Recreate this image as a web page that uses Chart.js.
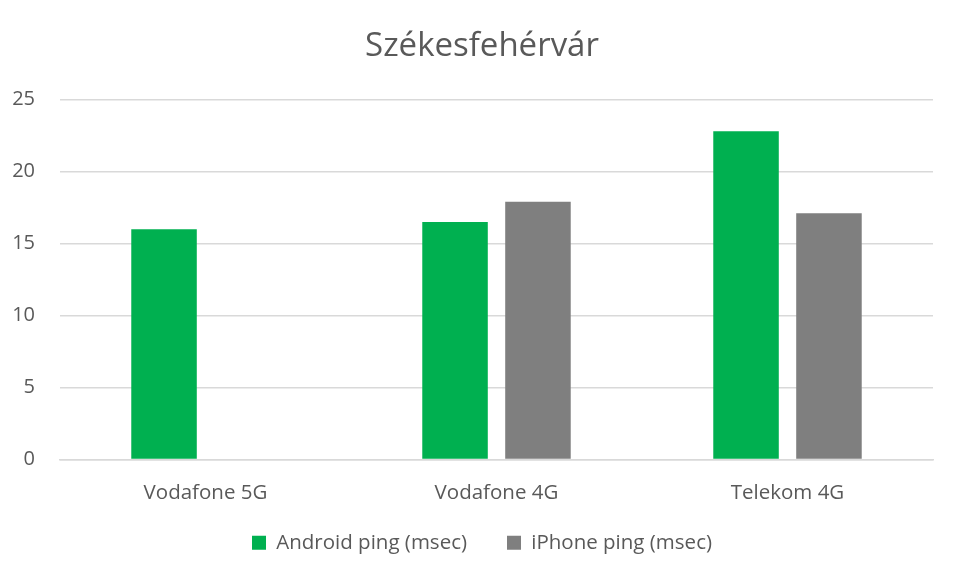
<!DOCTYPE html>
<html>
<head>
<meta charset="utf-8">
<script src="https://cdn.jsdelivr.net/npm/chart.js@4"></script>
<style>
  body { margin: 0; background: #fff; }
  .wrap { width: 960px; height: 581px; }
</style>
</head>
<body>
<div class="wrap"><canvas id="pingChart"></canvas></div>
<script>
var categories = ['Vodafone 5G', 'Vodafone 4G', 'Telekom 4G'];
var androidPing = [16.0, 16.5, 22.8];
var iphonePing = [null, 17.9, 17.1];
var yTicks = [0, 5, 10, 15, 20, 25];

var font = "'Open Sans', 'Noto Sans', sans-serif";
var textColor = '#595959';

// move the legend up a bit, keeps the wide gap between its items
var legendLift = {
  id: 'legendLift',
  afterLayout: function (chart) {
    chart.legend.top -= 13;
    chart.legend.bottom -= 13;
  }
};

var ctx = document.getElementById('pingChart');
var myChart = new Chart(ctx, {
  type: 'bar',
  data: {
    labels: categories,
    datasets: [{
        label: 'Android ping (msec)',
        data: androidPing,
        backgroundColor: '#00b050',
        yAxisID: 'y',
        categoryPercentage: 0.57,
        barPercentage: 0.79
      },
      {
        label: 'iPhone ping (msec)',
        data: iphonePing,
        backgroundColor: '#7f7f7f',
        yAxisID: 'y',
        categoryPercentage: 0.57,
        barPercentage: 0.79
      }
    ]
  },
  options: {
    responsive: true,
    maintainAspectRatio: false,
    animation: false,
    layout: {
      padding: {left: 12, right: 8, top: 14, bottom: 5}
    },
    scales: {
      x: {
        grid: {display: false},
        border: {display: true, color: '#d9d9d9', width: 1.5},
        ticks: {color: textColor, font: {family: font, size: 20.5}, padding: 13},
        afterFit: function (axis) {
          axis.height = 46;
        }
      },
      y: {
        min: 0,
        max: 25,
        afterBuildTicks: function (axis) {
          axis.ticks = yTicks.map(function (v) { return {value: v}; });
        },
        afterFit: function (axis) {
          axis.width = 48;
        },
        grid: {color: '#d9d9d9', lineWidth: 1.5, drawTicks: false},
        border: {display: false},
        ticks: {color: textColor, font: {family: font, size: 20}, padding: 25}
      },
      // empty spacer on the right so title and legend sit centred like the original
      yr: {
        position: 'right',
        grid: {display: false},
        border: {display: false},
        ticks: {display: false},
        afterFit: function (axis) {
          axis.width = 19;
        }
      }
    },
    plugins: {
      title: {
        display: true,
        text: 'Székesfehérvár',
        color: textColor,
        font: {family: font, size: 33, weight: 'normal'},
        padding: {top: 13, bottom: 33}
      },
      legend: {
        position: 'bottom',
        labels: {
          color: textColor,
          font: {family: font, size: 20.5},
          boxWidth: 14,
          boxHeight: 14,
          padding: 40
        }
      },
      tooltip: {enabled: false}
    }
  },
  plugins: [legendLift]
});
</script>
</body>
</html>
